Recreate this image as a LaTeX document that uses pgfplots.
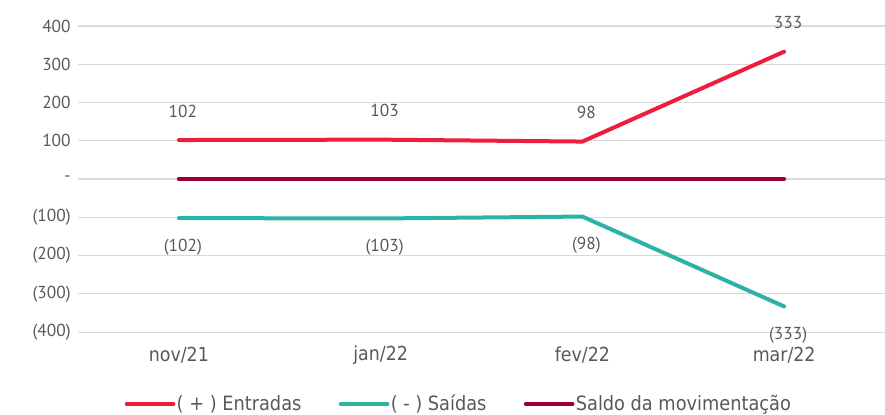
\documentclass[border=0pt]{standalone}
\usepackage{pgfplots}
\pgfplotsset{compat=1.18}
\usepackage{fontspec}
\setmainfont{PT Sans}
\newfontfamily\legfont{DejaVu Sans Condensed}
\definecolor{cin}{HTML}{EE1C3E}
\definecolor{cout}{HTML}{2BB3A3}
\definecolor{csal}{HTML}{990030}
\definecolor{txt}{HTML}{595959}
\definecolor{grd}{HTML}{D9D9D9}
\begin{document}
\begin{tikzpicture}
\begin{axis}[
  name=ax,
  scale only axis,
  width=605pt, height=229.5pt,
  xmin=-0.5, xmax=3.5, ymin=-400, ymax=400,
  xtick={0,1,2,3},
  xticklabels={nov/21,jan/22,fev/22,mar/22},
  ytick={-400,-300,-200,-100,0,100,200,300,400},
  yticklabels={(400),(300),(200),(100),-,100,200,300,400},
  axis line style={draw=none},
  tick style={draw=none},
  ymajorgrids, grid style={grd, line width=0.9pt},
  yticklabel style={font=\fontsize{13}{15}\selectfont, text=txt, anchor=east, xshift=-2pt},
  xticklabel style={font=\legfont\fontsize{14.5}{16}\selectfont, text=txt, anchor=center, yshift=-17pt},
  legend style={at={(axis description cs:0.4715,-0.235)}, anchor=center, draw=none,
    font=\legfont\fontsize{14.8}{16}\selectfont, text=txt, legend columns=3,
    nodes={inner xsep=1pt},
    /tikz/every even column/.append style={column sep=27pt}},
  legend image code/.code={\draw[#1, line cap=round] (0pt,0pt) -- (35pt,0pt);},
  legend cell align=left,
  clip=false,
]
\addplot[cin, line width=3pt, line cap=round, line join=round,
  point meta=explicit symbolic,
  nodes near coords, every node near coord/.style={anchor=center, yshift=21.75pt, xshift=3pt, font=\fontsize{13}{15}\selectfont, text=txt}]
  table[meta=lab] {
x y lab
0 102 102
1 103 103
2 98 98
3 333 333
};
\addlegendentry{( + ) Entradas}
\addplot[cout, line width=3pt, line cap=round, line join=round,
  point meta=explicit symbolic,
  nodes near coords, every node near coord/.style={anchor=center, yshift=-21.75pt, xshift=3pt, font=\fontsize{13}{15}\selectfont, text=txt}]
  table[meta=lab] {
x y lab
0 -102 (102)
1 -103 (103)
2 -98 (98)
3 -333 (333)
};
\addlegendentry{( - ) Saídas}
\addplot[csal, line width=3pt, line cap=round] coordinates {(0,0) (1,0) (2,0) (3,0)};
\addlegendentry{Saldo da movimentação}
\end{axis}
\pgfresetboundingbox
\useasboundingbox ([xshift=-58.5pt, yshift=-61.5pt]ax.south west) rectangle ([yshift=19.5pt]ax.north east);
\end{tikzpicture}
\end{document}
